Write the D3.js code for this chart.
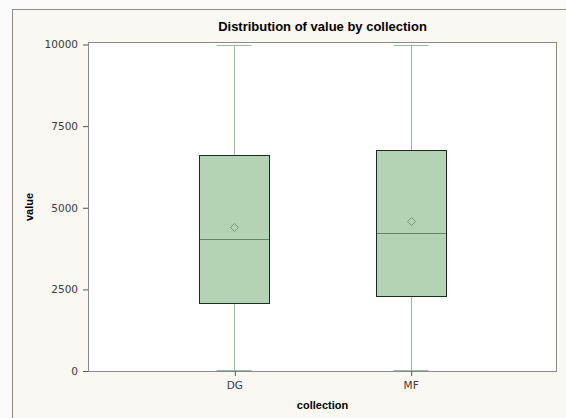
<!DOCTYPE html>
<html>
<head>
<meta charset="utf-8">
<script src="https://cdn.jsdelivr.net/npm/d3@7"></script>
<style>
  body { margin: 0; background: #fbfbfb; }
  text { font-family: "Liberation Sans", Arial, sans-serif; }
</style>
</head>
<body>
<div id="chart"></div>
<script>
// box stats
var categories = ["DG", "MF"];
var minVals = [0, 0];
var q1Vals = [2080, 2310];
var medianVals = [4040, 4225];
var meanVals = [4405, 4590];
var q3Vals = [6620, 6770];
var maxVals = [10000, 10000];
var yTicks = [0, 2500, 5000, 7500, 10000];

var W = 566, H = 418;
var margin = {top: 42, right: 9, bottom: 46, left: 88};
var width = W - margin.left - margin.right,
    height = H - margin.top - margin.bottom;

var data = categories.map(function(c, i) {
  return {cat: c, min: minVals[i], q1: q1Vals[i], med: medianVals[i],
          mean: meanVals[i], q3: q3Vals[i], max: maxVals[i]};
});

var svg = d3.select("#chart").append("svg")
  .attr("width", W)
  .attr("height", H);

// outer frame
svg.append("rect")
  .attr("x", 12.5).attr("y", 9.5)
  .attr("width", 600).attr("height", 500)
  .attr("fill", "#faf8f2")
  .attr("stroke", "#8c8c84");

var g = svg.append("g")
  .attr("transform", "translate(" + margin.left + "," + margin.top + ")");

var x = d3.scalePoint()
  .domain(categories)
  .range([0, width])
  .padding(0.83);

var y = d3.scaleLinear()
  .domain([0, 10000])
  .range([height - 1, 2.5]);

g.append("rect")
  .attr("x", 0.5).attr("y", 0.5)
  .attr("width", width - 1).attr("height", height - 1)
  .attr("fill", "#ffffff")
  .attr("stroke", "#8a8a8a");

var boxW = 70, capW = 35;
var whisk = "#97bca0";

var box = g.selectAll(".box")
  .data(data)
  .enter().append("g")
  .attr("class", "box")
  .attr("transform", function(d) { return "translate(" + Math.round(x(d.cat)) + ",0)"; });

// whiskers
box.append("line")
  .attr("x1", 0.5).attr("x2", 0.5)
  .attr("y1", function(d) { return y(d.max); })
  .attr("y2", function(d) { return y(d.q3); })
  .attr("stroke", whisk);
box.append("line")
  .attr("x1", 0.5).attr("x2", 0.5)
  .attr("y1", function(d) { return y(d.q1); })
  .attr("y2", function(d) { return y(d.min); })
  .attr("stroke", whisk);
box.append("line")
  .attr("x1", -capW / 2).attr("x2", capW / 2)
  .attr("y1", function(d) { return Math.round(y(d.max)) + 0.5; })
  .attr("y2", function(d) { return Math.round(y(d.max)) + 0.5; })
  .attr("stroke", whisk);
box.append("line")
  .attr("x1", -capW / 2).attr("x2", capW / 2)
  .attr("y1", function(d) { return Math.round(y(d.min)) - 0.5; })
  .attr("y2", function(d) { return Math.round(y(d.min)) - 0.5; })
  .attr("stroke", whisk);

// box
box.append("rect")
  .attr("x", -boxW / 2 + 0.5)
  .attr("y", function(d) { return Math.round(y(d.q3)) + 0.5; })
  .attr("width", boxW)
  .attr("height", function(d) { return Math.round(y(d.q1)) - Math.round(y(d.q3)); })
  .attr("fill", "#b3d3b4")
  .attr("stroke", "#1f2a1f");

// median
box.append("line")
  .attr("x1", -boxW / 2 + 1).attr("x2", boxW / 2)
  .attr("y1", function(d) { return Math.round(y(d.med)) + 0.5; })
  .attr("y2", function(d) { return Math.round(y(d.med)) + 0.5; })
  .attr("stroke", "#5e8a63");

// mean diamond
box.append("path")
  .attr("d", function(d) {
    var cy = Math.round(y(d.mean)) + 0.5;
    return "M0.5," + (cy - 4) + "L4.5," + cy + "L0.5," + (cy + 4) + "L-3.5," + cy + "Z";
  })
  .attr("fill", "none")
  .attr("stroke", "#6b9870");

// axes
var yAxis = g.append("g")
  .call(d3.axisLeft(y).tickValues(yTicks).tickSize(5).tickPadding(5).tickFormat(d3.format("d")));
yAxis.select(".domain").remove();
yAxis.selectAll("line").attr("stroke", "#555");
yAxis.selectAll("text").attr("fill", "#3a3a3a")
  .style("font-family", "'DejaVu Sans', sans-serif").style("font-size", "10.5px");

var xAxis = g.append("g")
  .attr("transform", "translate(0," + height + ")")
  .call(d3.axisBottom(x).tickSize(5).tickPadding(5));
xAxis.select(".domain").remove();
xAxis.selectAll("line").attr("stroke", "#555").attr("transform", "translate(0.5,-1)");
xAxis.selectAll("text").attr("fill", "#3a3a3a")
  .style("font-family", "'DejaVu Sans', sans-serif").style("font-size", "10.5px");

// titles
svg.append("text")
  .attr("x", margin.left + width / 2)
  .attr("y", 31)
  .attr("text-anchor", "middle")
  .style("font-size", "13px")
  .style("font-weight", "bold")
  .text("Distribution of value by collection");

svg.append("text")
  .attr("x", margin.left + width / 2)
  .attr("y", 409)
  .attr("text-anchor", "middle")
  .style("font-size", "11px")
  .style("font-weight", "bold")
  .text("collection");

svg.append("text")
  .attr("transform", "translate(33," + (margin.top + height / 2) + ") rotate(-90)")
  .attr("text-anchor", "middle")
  .style("font-size", "11px")
  .style("font-weight", "bold")
  .text("value");
</script>
</body>
</html>
